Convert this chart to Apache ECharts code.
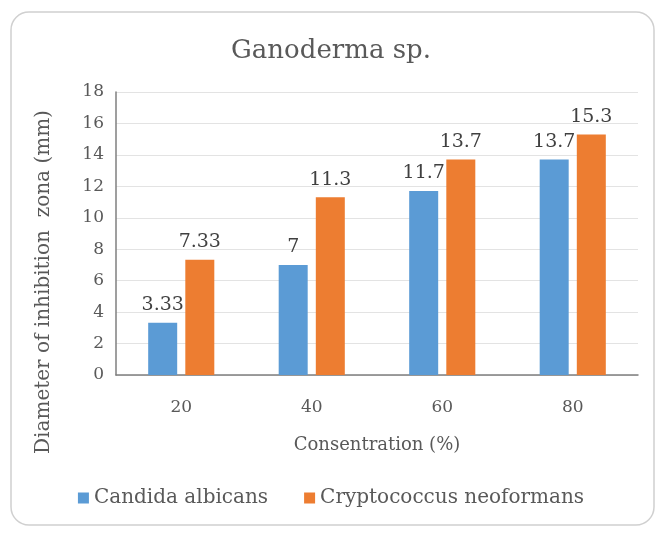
<!DOCTYPE html>
<html><head><meta charset="utf-8">
<script src="https://cdn.jsdelivr.net/npm/echarts@6/dist/echarts.min.js"></script>
<style>html,body{margin:0;padding:0;background:#fff}#c{width:662px;height:535px}</style>
</head><body><div id="c"></div>
<script>
var categories = ['20', '40', '60', '80'];
var candidaValues = [3.33, 7, 11.7, 13.7];
var cryptoValues = [7.33, 11.3, 13.7, 15.3];
var seriesNames = ['Candida albicans', 'Cryptococcus neoformans'];
var yAxisTitle = 'Diameter of inhibition  zona (mm)';
var F = '"DejaVu Serif", "Liberation Serif", serif';
var chart = echarts.init(document.getElementById('c'));
chart.setOption({
  animation: false,
  backgroundColor: '#fff',
  graphic: [
    {type: 'rect', shape: {x: 11, y: 12, width: 643, height: 513, r: 18}, style: {fill: 'none', stroke: '#d0d0d0', lineWidth: 1.5}, z: -1},
    {type: 'text', x: 44, y: 282, rotation: Math.PI / 2, style: {text: yAxisTitle, fontFamily: F, fontSize: 20, fill: '#595959', textAlign: 'center', textVerticalAlign: 'middle'}}
  ],
  title: {text: 'Ganoderma sp.', left: 'center', top: 33, textStyle: {fontFamily: F, fontSize: 26, fontWeight: 'normal', color: '#595959'}},
  grid: {left: 116, right: 24, top: 92, bottom: 160},
  legend: {bottom: 22, left: 'center', itemWidth: 11, itemHeight: 11, itemGap: 36, icon: 'rect',
    textStyle: {fontFamily: F, fontSize: 20, color: '#595959'}, data: seriesNames},
  xAxis: {type: 'category', data: categories, name: 'Consentration (%)', nameLocation: 'middle', nameGap: 61,
    nameTextStyle: {fontFamily: F, fontSize: 18, color: '#595959'},
    axisLine: {lineStyle: {color: '#7f7f7f', width: 1.5}}, axisTick: {show: false},
    axisLabel: {fontFamily: F, fontSize: 17, color: '#595959', margin: 24}},
  yAxis: {type: 'value', min: 0, max: 18, interval: 2,
    axisLine: {show: true, lineStyle: {color: '#7f7f7f', width: 1.5}}, axisTick: {show: false},
    splitLine: {lineStyle: {color: '#e3e3e3'}},
    axisLabel: {fontFamily: F, fontSize: 17, color: '#595959', margin: 12}},
  series: [
    {name: seriesNames[0], type: 'bar', data: candidaValues, barWidth: 29, barGap: '28%', itemStyle: {color: '#5b9bd5'},
      label: {show: true, position: 'top', distance: 8, fontFamily: F, fontSize: 19, color: '#404040'}},
    {name: seriesNames[1], type: 'bar', data: cryptoValues, barWidth: 29, barGap: '28%', itemStyle: {color: '#ed7d31'},
      label: {show: true, position: 'top', distance: 8, fontFamily: F, fontSize: 19, color: '#404040'}}
  ]
});
</script></body></html>
